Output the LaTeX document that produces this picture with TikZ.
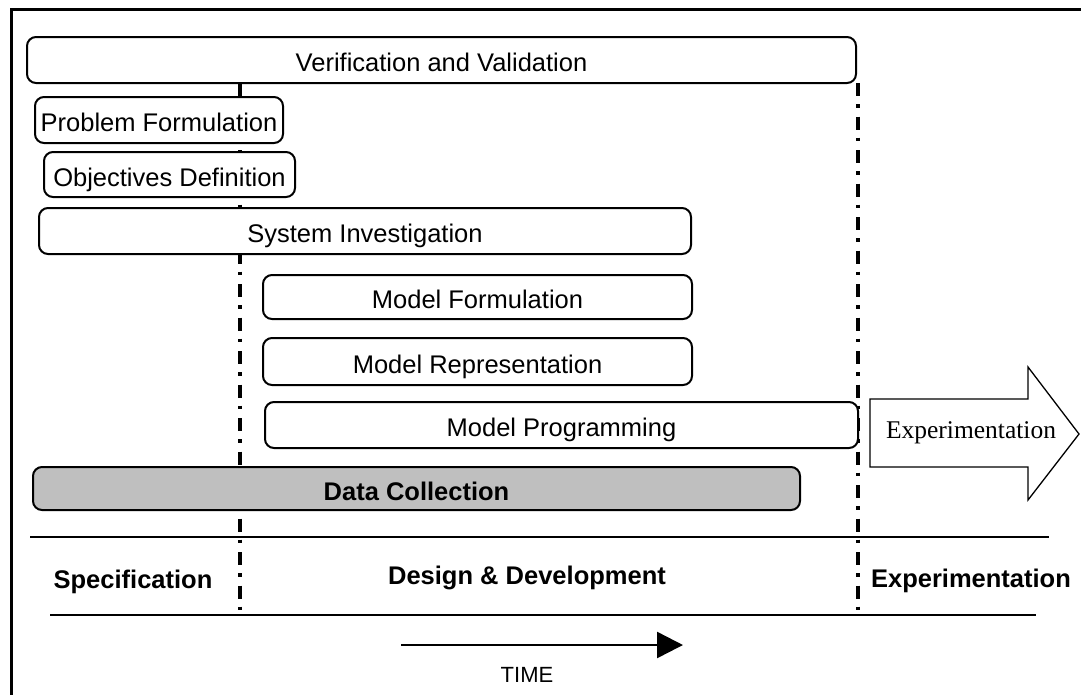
\documentclass[tikz,border=0pt]{standalone}
\usepackage{fontspec}
\setmainfont{Liberation Serif}
\setsansfont{Liberation Sans}
\usetikzlibrary{arrows.meta}

\tikzset{
  stagebox/.style={draw, line width=2pt, rounded corners=9pt, fill=white,
    inner sep=0pt, text height=23pt, text depth=0pt,
    font=\sffamily\fontsize{25.5}{30}\selectfont},
  databox/.style={stagebox, fill=black!25, font=\sffamily\bfseries\fontsize{25.5}{30}\selectfont},
  phase/.style={font=\sffamily\bfseries\fontsize{25.5}{30}\selectfont, inner sep=0pt, anchor=base},
  milestone/.style={line width=3.6pt, dash pattern=on 13pt off 8pt on 3.5pt off 9pt},
  rule/.style={line width=2.2pt},
}

% box from corner (x1,y1) to (x2,y2), in pixel units
\newcommand\stage[7][stagebox]{%
  \node[#1, minimum width={(#5-#3)*1pt}, minimum height={(#6-#4)*1pt}]
    (#2) at ({(#3+#5)/2},{(#4+#6)/2}) {#7};}

\begin{document}
\begin{tikzpicture}[x=1pt, y=-1pt]
\useasboundingbox (0,0) rectangle (1081,694);

% outer frame (open to the right and bottom)
\draw[line width=3pt] (11,700) -- (11,9) -- (1090,9);

% phase boundaries
\draw[milestone] (240,83) -- (240,615);
\draw[milestone] (858,83) -- (858,615);

% activities
\stage{vv}{27}{37}{856}{83}{Verification and Validation}
\stage{pf}{35}{97}{283}{143}{Problem Formulation}
\stage{od}{44}{152}{295}{197}{Objectives Definition}
\stage{si}{39}{208}{691}{254}{System Investigation}
\stage{mf}{263}{275}{692}{319}{Model Formulation}
\stage{mr}{263}{338}{692}{385}{Model Representation}
\stage{mp}{265}{402}{858}{448}{Model Programming}
\stage[databox]{dc}{33}{467}{800}{510}{Data Collection}

% experimentation arrow
\draw[line width=1.3pt, fill=white]
  (870,399) -- (1028,399) -- (1028,367) -- (1079,434) -- (1028,500)
  -- (1028,467) -- (870,467) -- cycle;
\node[font=\rmfamily\fontsize{25.5}{30}\selectfont, inner sep=0pt, anchor=base]
  (exp) at (971,438) {Experimentation};

% phase band
\draw[rule] (30,537) -- (1049,537);
\draw[rule] (50,615) -- (1036,615);
\node[phase] (spec) at (133,588) {Specification};
\node[phase] (dd) at (527,584) {Design \& Development};
\node[phase] (expph) at (971,587) {Experimentation};

% time axis
\coordinate (t0) at (401,645);
\coordinate (t1) at (683,645);
\draw[line width=2.5pt, -{Triangle[length=26pt, width=26pt]}] (t0) -- (t1);
\node[font=\sffamily\fontsize{22}{26}\selectfont, inner sep=0pt, anchor=base] (time) at (527,682) {TIME};
\end{tikzpicture}
\end{document}
